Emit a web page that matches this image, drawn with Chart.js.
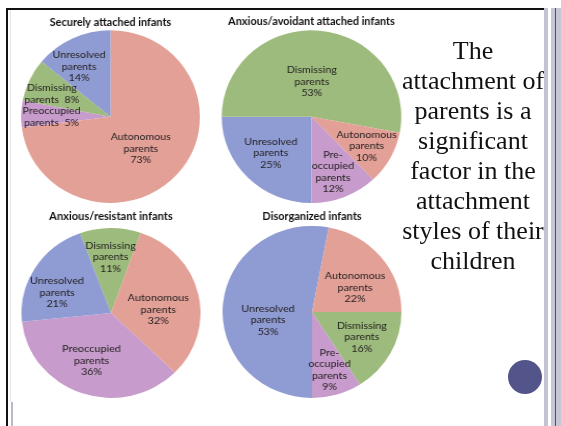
<!DOCTYPE html>
<html>
<head>
<meta charset="utf-8">
<script src="https://cdn.jsdelivr.net/npm/chart.js@4"></script>
<style>
  html, body { margin: 0; padding: 0; background: #fff; }
  body { width: 561px; height: 426px; position: relative; overflow: hidden; }
  .rule { position: absolute; }
  canvas { position: absolute; }
  #note {
    position: absolute; left: 393px; top: 36px; width: 160px;
    text-align: center; color: #111; white-space: nowrap;
    font: 26px "Liberation Serif", "Times New Roman", serif; line-height: 30px;
  }
  #dot { position: absolute; left: 508px; top: 360px; width: 34px; height: 34px; border-radius: 50%; background: #52548a; }
</style>
</head>
<body>
<!-- slide frame -->
<div class="rule" style="left:6px;top:8px;width:539px;height:2px;background:#111"></div>
<div class="rule" style="left:6px;top:8px;width:2px;height:418px;background:#111"></div>
<div class="rule" style="left:10px;top:10px;width:1px;height:392px;background:#e4e4ea"></div>
<div class="rule" style="left:11px;top:402px;width:2px;height:24px;background:#b9b9cb"></div>

<canvas id="c1"></canvas>
<canvas id="c2"></canvas>
<canvas id="c3"></canvas>
<canvas id="c4"></canvas>

<div id="note">The<br>attachment of<br>parents is a<br>significant<br>factor in the<br>attachment<br>styles of their<br>children</div>
<div id="dot"></div>

<div class="rule" style="left:544px;top:8px;width:4px;height:418px;background:#c2c2d2"></div>
<div class="rule" style="left:551px;top:8px;width:10px;height:418px;background:#c6c6d6"></div>
<div class="rule" style="left:555px;top:8px;width:1px;height:418px;background:#4b4b84"></div>

<script>
// Parent attachment categories and their shares (%) for each infant group
const securelyLabels = ['Autonomous', 'Preoccupied', 'Dismissing', 'Unresolved'];
const securelyValues = [73, 5, 8, 14];

const avoidantLabels = ['Unresolved', 'Dismissing', 'Autonomous', 'Preoccupied'];
const avoidantValues = [25, 53, 10, 12];

const resistantLabels = ['Dismissing', 'Autonomous', 'Preoccupied', 'Unresolved'];
const resistantValues = [11, 32, 36, 21];

const disorganizedLabels = ['Unresolved', 'Autonomous', 'Dismissing', 'Preoccupied'];
const disorganizedValues = [53, 22, 16, 9];

const groupTitles = [
  'Securely attached infants',
  'Anxious/avoidant attached infants',
  'Anxious/resistant infants',
  'Disorganized infants'
];

// One colour per parent category
const categoryColors = {
  Autonomous: '#e3a097',
  Dismissing: '#9dbb7c',
  Unresolved: '#8f9bd3',
  Preoccupied: '#c79bcb'
};

// Build the lines of text written inside a slice
function sliceLines(name, value, form) {
  if (form === 'inline') return [name, 'parents  ' + value + '%'];
  if (form === 'hyphen') return ['Pre-', 'occupied', 'parents', value + '%'];
  return [name, 'parents', value + '%'];
}

// Writes each slice's category and percentage inside the pie
const sliceText = {
  id: 'sliceText',
  afterDatasetsDraw(chart, args, opts) {
    const ctx = chart.ctx;
    const meta = chart.getDatasetMeta(0);
    const ds = chart.data.datasets[0];
    ctx.save();
    ctx.font = opts.font;
    ctx.fillStyle = opts.color;
    ctx.textAlign = 'center';
    ctx.textBaseline = 'middle';
    meta.data.forEach((arc, i) => {
      const p = opts.place[i];
      const mid = (arc.startAngle + arc.endAngle) / 2 + p.turn * Math.PI / 180;
      const rr = arc.outerRadius * p.dist;
      const x = arc.x + Math.cos(mid) * rr;
      const y = arc.y + Math.sin(mid) * rr;
      const lines = sliceLines(chart.data.labels[i], ds.data[i], p.form);
      const y0 = y - (lines.length - 1) * opts.lineHeight / 2;
      lines.forEach((t, k) => ctx.fillText(t, x, y0 + k * opts.lineHeight));
    });
    ctx.restore();
  }
};

// Placement of each pie on the slide and of the text inside its slices
const layouts = [
  { id: 'c1', cx: 110.5, cy: 116.5, r: 86.5, sx: 1.035, titleY: 22, rotation: 0,
    place: [ {dist: .50, turn: 6}, {dist: .66, turn: -2, form: 'inline'},
             {dist: .71, turn: -3, form: 'inline'}, {dist: .68, turn: -6} ] },
  { id: 'c2', cx: 311, cy: 116.5, r: 86.5, sx: 1.04, titleY: 21, rotation: 180,
    place: [ {dist: .62, turn: 2}, {dist: .41, turn: -5},
             {dist: .70, turn: 0}, {dist: .68, turn: 1, form: 'hyphen'} ] },
  { id: 'c3', cx: 110.5, cy: 312, r: 85, sx: 1.053, titleY: 215.5, rotation: -20.3,
    place: [ {dist: .66, turn: 0}, {dist: .53, turn: 9},
             {dist: .60, turn: 2}, {dist: .65, turn: -10} ] },
  { id: 'c4', cx: 311.5, cy: 311, r: 86, sx: 1.04, titleY: 215.5, rotation: 180,
    place: [ {dist: .50, turn: -16}, {dist: .56, turn: 9},
             {dist: .63, turn: -1}, {dist: .70, turn: 0, form: 'hyphen'} ] }
];

const groups = [
  [securelyLabels, securelyValues],
  [avoidantLabels, avoidantValues],
  [resistantLabels, resistantValues],
  [disorganizedLabels, disorganizedValues]
];

layouts.forEach((L, g) => {
  const canvas = document.getElementById(L.id);
  const top = L.titleY - 8;
  const w = Math.round(2 * L.r);
  const h = Math.round(L.cy + L.r - top);
  canvas.width = w;
  canvas.height = h;
  canvas.style.width = w + 'px';
  canvas.style.height = h + 'px';
  canvas.style.left = (L.cx - w / 2) + 'px';
  canvas.style.top = top + 'px';
  canvas.style.transform = 'scaleX(' + L.sx + ')';
  canvas.style.transformOrigin = '50% 50%';

  const [labels, values] = groups[g];
  new Chart(canvas, {
    type: 'pie',
    data: {
      labels: labels,
      datasets: [{
        data: values,
        backgroundColor: labels.map(n => categoryColors[n]),
        borderWidth: 0
      }]
    },
    options: {
      responsive: false,
      animation: false,
      devicePixelRatio: 1,
      rotation: L.rotation,
      layout: { padding: 0 },
      plugins: {
        legend: { display: false },
        tooltip: { enabled: false },
        title: {
          display: true,
          text: groupTitles[g],
          color: '#111',
          font: { family: 'Lato', size: 10.5, weight: 'bold', lineHeight: 1.2 },
          padding: { top: 2, bottom: (L.cy - L.r) - (L.titleY + 6.3) }
        },
        sliceText: {
          font: '10.3px Lato',
          color: '#221f20',
          lineHeight: 11.5,
          place: L.place
        }
      }
    },
    plugins: [sliceText]
  });
});
</script>
</body>
</html>
